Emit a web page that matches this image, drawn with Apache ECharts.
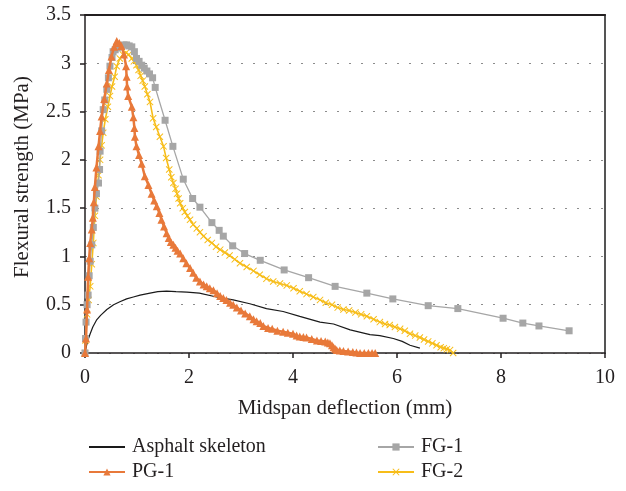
<!DOCTYPE html>
<html>
<head>
<meta charset="utf-8">
<script src="https://cdn.jsdelivr.net/npm/echarts@6/dist/echarts.min.js"></script>
<style>
  html, body { margin: 0; padding: 0; background: #fff; }
  #chart { width: 626px; height: 491px; }
</style>
</head>
<body>
<div id="chart"></div>
<script>
// Flexural strength vs midspan deflection, [deflection (mm), strength (MPa)]
const seriesNames = ['Asphalt skeleton', 'PG-1', 'FG-1', 'FG-2'];

const asphaltSkeleton = [
  [0, 0], [0.03, 0.08], [0.06, 0.14], [0.10, 0.20], [0.15, 0.27], [0.22, 0.34],
  [0.30, 0.39], [0.42, 0.45], [0.55, 0.50], [0.67, 0.53], [0.80, 0.56], [0.93, 0.58],
  [1.06, 0.60], [1.25, 0.62], [1.40, 0.635], [1.57, 0.64], [1.75, 0.635], [1.96, 0.63],
  [2.20, 0.62], [2.53, 0.58], [2.85, 0.55], [3.17, 0.51], [3.49, 0.46], [3.81, 0.43],
  [4.13, 0.38], [4.52, 0.32], [4.78, 0.30], [5.10, 0.24], [5.48, 0.19], [5.67, 0.18],
  [5.93, 0.15], [6.10, 0.12], [6.25, 0.08], [6.44, 0.05]
];

const pg1 = [
  [0, 0], [0.02, 0.15], [0.04, 0.45], [0.06, 0.79], [0.08, 0.98], [0.10, 1.14],
  [0.13, 1.28], [0.15, 1.40], [0.17, 1.56], [0.19, 1.72], [0.22, 1.92], [0.26, 2.14],
  [0.29, 2.30], [0.32, 2.45], [0.37, 2.63], [0.42, 2.79], [0.46, 2.93], [0.51, 3.07],
  [0.56, 3.17], [0.61, 3.23], [0.66, 3.21], [0.70, 3.18], [0.75, 3.09], [0.79, 2.97],
  [0.80, 2.86], [0.81, 2.76], [0.83, 2.66], [0.90, 2.55], [0.93, 2.44], [0.95, 2.33],
  [0.96, 2.24], [0.99, 2.14], [1.04, 2.05], [1.09, 1.96], [1.15, 1.83], [1.22, 1.74],
  [1.28, 1.65], [1.33, 1.58], [1.38, 1.52], [1.43, 1.45], [1.47, 1.38], [1.52, 1.31],
  [1.57, 1.24], [1.61, 1.19], [1.65, 1.15], [1.70, 1.12], [1.74, 1.09], [1.78, 1.06],
  [1.83, 1.03], [1.89, 0.98], [1.95, 0.93], [2.02, 0.88], [2.08, 0.83], [2.14, 0.78],
  [2.21, 0.74], [2.28, 0.71], [2.34, 0.69], [2.40, 0.67], [2.47, 0.65], [2.54, 0.62],
  [2.60, 0.59], [2.66, 0.57], [2.72, 0.55], [2.79, 0.52], [2.85, 0.50], [2.92, 0.47],
  [3.00, 0.44], [3.08, 0.41], [3.17, 0.38], [3.24, 0.35], [3.30, 0.33], [3.37, 0.31],
  [3.43, 0.28], [3.52, 0.26], [3.60, 0.25], [3.70, 0.23], [3.81, 0.22], [3.90, 0.21],
  [4.00, 0.20], [4.07, 0.18], [4.13, 0.17], [4.20, 0.165], [4.26, 0.16], [4.36, 0.145],
  [4.46, 0.13], [4.54, 0.125], [4.62, 0.12], [4.67, 0.11], [4.71, 0.10], [4.75, 0.08],
  [4.78, 0.06], [4.81, 0.045], [4.84, 0.03], [4.90, 0.025], [4.97, 0.02], [5.06, 0.015],
  [5.15, 0.01], [5.22, 0.005], [5.29, 0.0], [5.37, 0.0], [5.45, 0.0], [5.52, 0.0], [5.58, 0.0]
];

const fg1 = [
  [0, 0], [0.01, 0.15], [0.02, 0.32], [0.04, 0.50], [0.06, 0.60], [0.08, 0.80],
  [0.10, 0.95], [0.13, 1.12], [0.16, 1.30], [0.19, 1.50], [0.22, 1.65], [0.26, 1.76],
  [0.28, 1.90], [0.29, 2.09], [0.32, 2.30], [0.35, 2.52], [0.38, 2.62], [0.42, 2.73],
  [0.45, 2.85], [0.48, 2.97], [0.52, 3.06], [0.54, 3.12], [0.58, 3.14], [0.62, 3.16],
  [0.66, 3.17], [0.70, 3.18], [0.75, 3.19], [0.80, 3.19], [0.85, 3.18], [0.90, 3.17],
  [0.95, 3.12], [0.99, 3.05], [1.04, 3.02], [1.09, 2.98], [1.14, 2.95], [1.19, 2.92],
  [1.24, 2.89], [1.30, 2.85], [1.35, 2.75], [1.54, 2.41], [1.69, 2.14], [1.89, 1.80],
  [2.07, 1.60], [2.21, 1.51], [2.44, 1.35], [2.58, 1.27], [2.66, 1.21], [2.84, 1.11],
  [3.07, 1.03], [3.37, 0.96], [3.83, 0.86], [4.30, 0.78], [4.81, 0.69], [5.42, 0.62],
  [5.92, 0.56], [6.60, 0.49], [7.17, 0.46], [8.04, 0.36], [8.42, 0.31], [8.73, 0.28],
  [9.31, 0.23]
];

const fg2 = [
  [0, 0], [0.01, 0.13], [0.04, 0.40], [0.07, 0.55], [0.10, 0.69], [0.13, 0.92],
  [0.16, 1.14], [0.19, 1.42], [0.22, 1.62], [0.26, 1.84], [0.29, 2.00], [0.32, 2.15],
  [0.35, 2.28], [0.39, 2.42], [0.44, 2.55], [0.48, 2.66], [0.52, 2.76], [0.57, 2.86],
  [0.61, 2.97], [0.67, 3.05], [0.73, 3.09], [0.79, 3.11], [0.84, 3.09], [0.90, 3.05],
  [0.94, 3.02], [0.99, 2.98], [1.03, 2.93], [1.07, 2.87], [1.11, 2.82], [1.15, 2.76],
  [1.20, 2.68], [1.25, 2.60], [1.31, 2.43], [1.37, 2.34], [1.44, 2.24], [1.51, 2.14],
  [1.56, 2.02], [1.62, 1.90], [1.66, 1.82], [1.70, 1.76], [1.74, 1.70], [1.77, 1.65],
  [1.80, 1.60], [1.83, 1.55], [1.88, 1.50], [1.92, 1.46], [1.97, 1.42], [2.02, 1.38],
  [2.08, 1.33], [2.15, 1.29], [2.21, 1.25], [2.28, 1.21], [2.36, 1.17], [2.44, 1.14],
  [2.52, 1.10], [2.60, 1.07], [2.69, 1.04], [2.78, 1.01], [2.88, 0.97], [2.98, 0.93],
  [3.11, 0.89], [3.24, 0.85], [3.36, 0.81], [3.49, 0.77], [3.62, 0.74], [3.75, 0.72],
  [3.88, 0.70], [4.01, 0.67], [4.13, 0.64], [4.26, 0.61], [4.39, 0.58], [4.52, 0.55],
  [4.63, 0.52], [4.75, 0.50], [4.86, 0.47], [4.97, 0.45], [5.08, 0.44], [5.20, 0.42],
  [5.31, 0.40], [5.42, 0.38], [5.55, 0.35], [5.67, 0.32], [5.77, 0.30], [5.86, 0.29],
  [5.96, 0.27], [6.06, 0.25], [6.15, 0.23], [6.25, 0.20], [6.35, 0.18], [6.44, 0.16],
  [6.52, 0.14], [6.60, 0.12], [6.68, 0.10], [6.76, 0.08], [6.84, 0.06], [6.90, 0.05],
  [6.96, 0.04], [7.02, 0.03], [7.08, 0.0]
];

const xTicks = { min: 0, max: 10, step: 2 };
const yTicks = { min: 0, max: 3.5, step: 0.5 };

const serif = '"Liberation Serif", "Times New Roman", serif';
const textColor = '#231f20';
const colors = { asphalt: '#1a1a1a', pg1: '#e8793a', fg1: '#a6a6a6', fg2: '#f7bd19' };
const crossPath = 'path://M0,1L1,0L5,4L9,0L10,1L6,5L10,9L9,10L5,6L1,10L0,9L4,5Z';

// one legend block per entry, laid out as a two-by-two table under the axis title
function legendEntry(name, left, top, extra) {
  return Object.assign({
    data: [name], left: left, top: top,
    itemWidth: 36, itemHeight: 9, itemGap: 0,
    textStyle: { fontFamily: serif, fontSize: 20, color: textColor, padding: [0, 0, 0, 2] }
  }, extra || {});
}

const chart = echarts.init(document.getElementById('chart'), null, { renderer: 'canvas' });

chart.setOption({
  animation: false,
  backgroundColor: '#fff',
  grid: { left: 85, right: 21, top: 15, bottom: 138, containLabel: false },
  xAxis: [{
    type: 'value', min: xTicks.min, max: xTicks.max, interval: xTicks.step,
    name: 'Midspan deflection (mm)', nameLocation: 'middle', nameGap: 45,
    nameTextStyle: { fontFamily: serif, fontSize: 21, color: textColor },
    axisLine: { show: true, onZero: false, lineStyle: { color: '#231f20', width: 1.5 } },
    axisTick: { show: true, inside: false, length: 5, lineStyle: { color: '#231f20', width: 1.5 } },
    axisLabel: { fontFamily: serif, fontSize: 20, color: textColor, margin: 15 },
    splitLine: { show: false }
  }, {
    type: 'value', position: 'top', min: xTicks.min, max: xTicks.max,
    axisLine: { show: true, onZero: false, lineStyle: { color: '#231f20', width: 2 } },
    axisTick: { show: false }, axisLabel: { show: false }, splitLine: { show: false }
  }],
  yAxis: [{
    type: 'value', min: yTicks.min, max: yTicks.max, interval: yTicks.step,
    name: 'Flexural strength (MPa)', nameLocation: 'middle', nameGap: 52,
    nameTextStyle: { fontFamily: serif, fontSize: 21, color: textColor, padding: [0, 0, 0, 14] },
    axisLine: { show: true, onZero: false, lineStyle: { color: '#231f20', width: 1.5 } },
    axisTick: { show: true, inside: false, length: 5, lineStyle: { color: '#231f20', width: 1.5 } },
    axisLabel: { fontFamily: serif, fontSize: 20, color: textColor, margin: 14 },
    splitLine: { show: true, lineStyle: { color: '#8c8c8c', width: 1.2, type: [2, 10] } }
  }, {
    type: 'value', position: 'right', min: yTicks.min, max: yTicks.max,
    axisLine: { show: true, onZero: false, lineStyle: { color: '#555', width: 2 } },
    axisTick: { show: false }, axisLabel: { show: false }, splitLine: { show: false }
  }],
  legend: [
    legendEntry(seriesNames[0], 83, 432, { itemStyle: { opacity: 0 } }),
    legendEntry(seriesNames[1], 83, 457),
    legendEntry(seriesNames[2], 372, 432),
    legendEntry(seriesNames[3], 372, 457)
  ],
  series: [{
    name: seriesNames[0], type: 'line', data: asphaltSkeleton,
    showSymbol: false, symbol: 'none', smooth: false,
    lineStyle: { color: colors.asphalt, width: 1.2 }, itemStyle: { color: colors.asphalt },
    z: 2
  }, {
    name: seriesNames[3], type: 'line', data: fg2,
    symbol: crossPath, symbolSize: 7,
    lineStyle: { color: colors.fg2, width: 1.6 }, itemStyle: { color: colors.fg2 },
    z: 3
  }, {
    name: seriesNames[2], type: 'line', data: fg1,
    symbol: 'rect', symbolSize: 7,
    lineStyle: { color: colors.fg1, width: 1.3 }, itemStyle: { color: colors.fg1 },
    z: 4
  }, {
    name: seriesNames[1], type: 'line', data: pg1,
    symbol: 'triangle', symbolSize: 8,
    lineStyle: { color: colors.pg1, width: 2.5 }, itemStyle: { color: colors.pg1 },
    z: 5
  }]
});
</script>
</body>
</html>
